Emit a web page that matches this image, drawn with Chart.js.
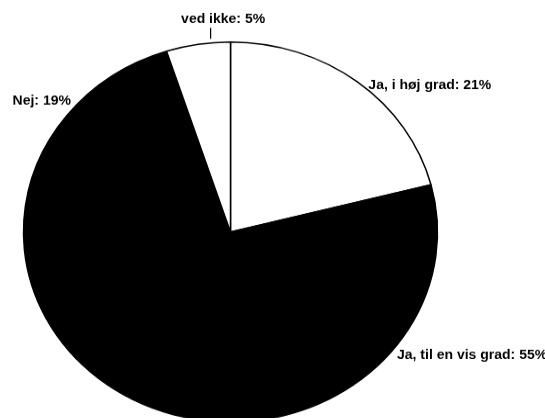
<!DOCTYPE html>
<html>
<head>
<meta charset="utf-8">
<script src="https://cdn.jsdelivr.net/npm/chart.js@4/dist/chart.umd.min.js"></script>
<style>
  html, body { margin: 0; padding: 0; background: #fff; overflow: hidden; }
  #wrap { width: 545px; height: 418px; overflow: hidden; }
  /* the scanned original is squashed vertically, pie and text alike */
  #pie { display: block; transform: scaleY(0.918); transform-origin: 0 0; }
</style>
</head>
<body>
<div id="wrap"><canvas id="pie" width="545" height="470"></canvas></div>
<script>
const categories = ['Ja, i høj grad', 'Ja, til en vis grad', 'Nej', 'ved ikke'];
const shares = [21, 55, 19, 5];

// styling, kept apart from the data
const sliceColors = ['#ffffff', '#000000', '#000000', '#ffffff'];
// label anchor offsets from the slice's outer edge at its mid angle
const labelOffsets = [
  { dx: 11, dy: 4, align: 'left' },
  { dx: 147, dy: -72, align: 'left' },
  { dx: 4, dy: -16, align: 'right' },
  { dx: 25, dy: -27, align: 'center', leader: true },
];

const outsideLabels = {
  id: 'outsideLabels',
  afterDraw(chart) {
    const ctx = chart.ctx;
    const meta = chart.getDatasetMeta(0);
    ctx.save();
    ctx.fillStyle = '#000';
    ctx.strokeStyle = '#000';
    ctx.font = 'bold 14px "Liberation Sans", Arial, sans-serif';
    ctx.textBaseline = 'middle';
    meta.data.forEach((arc, i) => {
      const { x, y, startAngle, endAngle, outerRadius } =
        arc.getProps(['x', 'y', 'startAngle', 'endAngle', 'outerRadius'], true);
      const mid = (startAngle + endAngle) / 2;
      const ex = x + outerRadius * Math.cos(mid);
      const ey = y + outerRadius * Math.sin(mid);
      const o = labelOffsets[i];
      const tx = ex + o.dx;
      const ty = ey + o.dy;
      ctx.textAlign = o.align;
      ctx.fillText(`${categories[i]}: ${shares[i]}%`, tx, ty);
      if (o.leader) {
        ctx.lineWidth = 1.2;
        ctx.beginPath();
        ctx.moveTo(ex + 12.5, ty + 9);
        ctx.lineTo(ex + 12.5, ey - 6);
        ctx.stroke();
      }
    });
    ctx.restore();
  },
};

new Chart(document.getElementById('pie'), {
  type: 'pie',
  data: {
    labels: categories,
    datasets: [{
      data: shares,
      backgroundColor: sliceColors,
      borderColor: '#000',
      borderWidth: 1.5,
    }],
  },
  options: {
    responsive: false,
    animation: false,
    radius: 207,
    layout: { padding: { left: 23.5, right: 107.5, top: 45.7, bottom: 10.3 } },
    plugins: {
      legend: { display: false },
      tooltip: { enabled: false },
    },
  },
  plugins: [outsideLabels],
});
</script>
</body>
</html>
